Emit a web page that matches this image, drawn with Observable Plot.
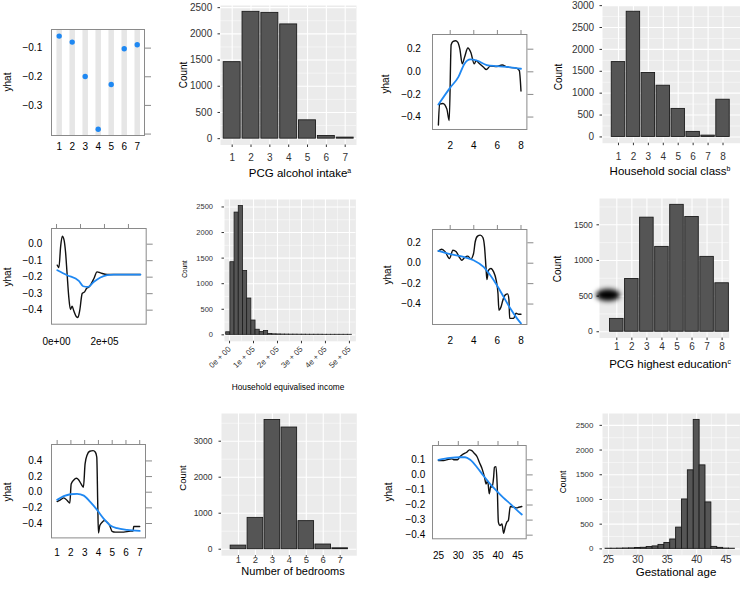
<!DOCTYPE html>
<html><head><meta charset="utf-8">
<script src="https://cdn.jsdelivr.net/npm/d3@7"></script>
<script src="https://cdn.jsdelivr.net/npm/@observablehq/plot@0.6"></script>
<style>
body{margin:0;background:#fff;}
#wrap{position:relative;width:740px;height:592px;overflow:hidden;background:#fff;font-family:"Liberation Sans",Arial,Helvetica,sans-serif;}
.t{position:absolute;white-space:nowrap;color:#000;line-height:1;font-family:"Liberation Sans",Arial,Helvetica,sans-serif;}
.t sup{font-size:0.6em;vertical-align:0.55em;line-height:0;}
.blob{position:absolute;background:#000;border-radius:50%;filter:blur(2.5px);}
</style></head><body><div id="wrap"></div><script>
// ---------- DATA ----------
// Row 1: PCG alcohol intake (partial dependence + histogram)
const alcoholCats = [1, 2, 3, 4, 5, 6, 7];
const alcoholYhat = [-0.058, -0.079, -0.199, -0.383, -0.227, -0.102, -0.088];
const alcoholCounts = [1460, 2420, 2400, 2180, 350, 50, 20];

// Row 1: Household social class
const socPdX = [1.0, 1.1, 1.38, 1.72, 1.92, 2.08, 2.25, 2.45, 2.65, 2.82, 3.02, 3.22, 3.5, 3.75, 4.04, 4.2, 4.4, 4.83, 5.06, 5.4, 5.96, 6.4, 6.8, 7.66, 7.86, 8.0];
const socPdY = [-0.47, -0.285, -0.28, -0.33, -0.43, 0.24, 0.27, 0.275, 0.26, 0.2, 0.07, 0.13, 0.21, 0.17, 0.07, 0.1, 0.08, 0.04, 0.02, 0.05, 0.047, 0.06, 0.044, 0.03, 0.01, -0.17];
const socSmX = [1.0, 2.0, 2.7, 3.2, 3.7, 4.26, 5.1, 5.96, 7.1, 8.0];
const socSmY = [-0.29, -0.14, -0.045, 0.07, 0.11, 0.1, 0.06, 0.05, 0.04, 0.027];
const socialCats = [1, 2, 3, 4, 5, 6, 7, 8];
const socialCounts = [1710, 2860, 1460, 1170, 640, 115, 30, 850];

// Row 2: Household equivalised income
const incPdX = [3000, 10000, 17000, 24000, 31000, 37500, 44000, 51000, 58000, 65000, 72000, 83000, 89000, 97000, 107000, 117000, 125000, 135000, 144000, 156000, 169000, 183000, 211000, 253000, 350000];
const incPdY = [-0.127, -0.141, -0.016, 0.048, 0.028, -0.046, -0.178, -0.319, -0.396, -0.376, -0.404, -0.44, -0.444, -0.4, -0.299, -0.289, -0.269, -0.259, -0.242, -0.208, -0.168, -0.174, -0.184, -0.184, -0.184];
const incSmX = [3000, 44000, 93000, 111000, 131000, 156000, 183000, 211000, 239000, 350000];
const incSmY = [-0.158, -0.188, -0.222, -0.255, -0.259, -0.228, -0.202, -0.188, -0.184, -0.184];
const incomePdTicks = [0, 200000];
const incomePdLabels = ["0e+00", "2e+05"];
const incomeBinStart = [-14000, 3500, 21000, 38500, 56000, 73500, 91000, 108500, 126000, 143500, 161000, 178500, 196000, 213500, 231000, 248500, 266000, 283500, 301000, 318500, 336000, 353500, 371000, 388500, 406000, 423500, 441000, 458500, 476000, 493500];
const incomeBinWidth = 17500;
const incomeCounts = [50, 1420, 2390, 2520, 1250, 710, 280, 100, 55, 75, 15, 10, 8, 6, 5, 4, 4, 3, 3, 2, 2, 2, 2, 1, 1, 1, 1, 1, 1, 1];
const incomeHistTicks = [0, 100000, 200000, 300000, 400000, 500000];
const incomeHistLabels = ["0e + 00", "1e + 05", "2e + 05", "3e + 05", "4e + 05", "5e + 05"];

// Row 2: PCG highest education
const eduPdX = [1.0, 1.29, 1.58, 1.94, 2.23, 2.51, 2.79, 2.99, 3.22, 3.5, 3.75, 3.98, 4.12, 4.32, 4.55, 4.77, 4.91, 5.03, 5.11, 5.25, 5.45, 5.68, 5.9, 6.05, 6.13, 6.3, 6.47, 6.67, 6.87, 6.98, 7.04, 7.38, 7.58, 7.8, 8.0];
const eduPdY = [0.118, 0.137, 0.111, 0.046, 0.127, 0.111, 0.056, 0.029, 0.056, 0.069, 0.042, 0.095, 0.21, 0.265, 0.275, 0.252, 0.16, -0.036, -0.16, -0.069, -0.052, -0.085, -0.167, -0.297, -0.46, -0.43, -0.36, -0.31, -0.3, -0.36, -0.54, -0.54, -0.49, -0.5, -0.5];
const eduSmX = [1.0, 2.0, 3.13, 3.98, 4.83, 5.4, 5.96, 6.53, 7.1, 7.66, 8.0];
const eduSmY = [0.121, 0.088, 0.062, 0.029, -0.036, -0.118, -0.216, -0.33, -0.444, -0.54, -0.59];
const eduCats = [1, 2, 3, 4, 5, 6, 7, 8];
const eduCounts = [180, 740, 1600, 1190, 1780, 1610, 1050, 680];

// Row 3: Number of bedrooms
const bedPdX = [1.0, 1.24, 1.48, 1.73, 1.92, 2.02, 2.21, 2.4, 2.57, 2.74, 2.91, 3.03, 3.18, 3.37, 3.61, 3.78, 3.88, 3.95, 4.0, 4.1, 4.27, 4.44, 4.63, 4.82, 4.99, 5.23, 5.84, 6.32, 6.52, 6.56, 7.0];
const bedPdY = [-0.119, -0.098, -0.072, -0.106, -0.14, 0.106, 0.157, 0.179, 0.157, 0.106, 0.064, 0.362, 0.477, 0.524, 0.532, 0.511, 0.447, -0.149, -0.52, -0.426, -0.383, -0.362, -0.383, -0.426, -0.5, -0.51, -0.51, -0.498, -0.498, -0.438, -0.438];
const bedSmX = [1.0, 1.48, 1.97, 2.45, 2.94, 3.42, 3.9, 4.39, 4.87, 5.36, 6.08, 7.0];
const bedSmY = [-0.098, -0.051, -0.026, -0.021, -0.043, -0.128, -0.226, -0.34, -0.426, -0.46, -0.481, -0.494];
const bedCats = [1, 2, 3, 4, 5, 6, 7];
const bedCounts = [100, 870, 3590, 3380, 780, 130, 25];

// Row 3: Gestational age
const gesPdX = [25, 26.3, 27.5, 28.4, 29, 29.8, 30.3, 31.3, 32.1, 32.8, 33.4, 34, 34.7, 35.3, 36, 36.6, 37, 37.4, 37.8, 38.2, 38.5, 38.9, 39.1, 39.5, 39.8, 40.1, 40.5, 41, 41.4, 41.8, 42.2, 42.6, 43.1, 44.1, 44.7, 45.2, 46];
const gesPdY = [0.095, 0.095, 0.104, 0.106, 0.1, 0.1, 0.117, 0.139, 0.15, 0.166, 0.161, 0.144, 0.122, 0.084, 0.04, -0.015, -0.06, -0.038, -0.126, -0.071, -0.082, -0.015, 0.051, 0.055, -0.071, -0.314, -0.336, -0.325, -0.387, -0.347, -0.314, -0.303, -0.21, -0.215, -0.219, -0.215, -0.21];
const gesSmX = [25, 27.9, 30.5, 31.7, 33, 34.7, 36.3, 38, 39.7, 41.4, 43.1, 44.7, 46];
const gesSmY = [0.1, 0.113, 0.117, 0.117, 0.1, 0.051, -0.004, -0.06, -0.108, -0.153, -0.192, -0.232, -0.263];
const gestWeeks = [25, 26, 27, 28, 29, 30, 31, 32, 33, 34, 35, 36, 37, 38, 39, 40, 41, 42, 43, 44, 45, 46];
const gestCounts = [3, 3, 5, 8, 10, 18, 22, 38, 50, 80, 120, 190, 430, 1000, 1590, 2610, 1690, 940, 40, 20, 6, 3];

// ---------- STYLE ----------
const FONT = '"Liberation Sans", Arial, Helvetica, sans-serif';
const FRAME = "#8a8a8a";
const BLACK = "#111";
const BLUE = "#1f88f2";
const BAR_FILL = "#555555";
const BAR_STROKE = "#1c1c1c";
const PANEL_BG = "#ebebeb";
const f1 = d3.format(".1f");
const fInt = d3.format("d");

const wrap = document.getElementById("wrap");
function put(node, left, top) {
  node.style.position = "absolute";
  node.style.left = left + "px";
  node.style.top = top + "px";
  node.style.maxWidth = "none";
  wrap.appendChild(node);
}
function title(html, cx, cy, fs, rot) {
  const d = document.createElement("div");
  d.className = "t";
  d.innerHTML = html;
  d.style.fontSize = fs + "px";
  d.style.left = cx + "px";
  d.style.top = cy + "px";
  d.style.transform = "translate(-50%,-50%)" + (rot ? " rotate(-90deg)" : "");
  wrap.appendChild(d);
}

function lattice(o) {
  const [x0, y0, x1, y1] = o.box;
  const ml = 52, mr = 10, mt = 8, mb = 30;
  const svg = Plot.plot({
    width: x1 - x0 + ml + mr, height: y1 - y0 + mt + mb,
    marginLeft: ml, marginRight: mr, marginTop: mt, marginBottom: mb,
    x: {domain: o.xDomain}, y: {domain: o.yDomain},
    style: {fontFamily: FONT, fontSize: "10px", background: "transparent", color: "#000", overflow: "visible"},
    marks: [
      ...o.marks,
      Plot.frame({stroke: FRAME, strokeWidth: 1}),
      Plot.axisY({ticks: o.yTicks, tickFormat: f1, tickSize: 0, tickPadding: o.yPad, fill: "#000", fontSize: 10, label: null}),
      Plot.axisY({anchor: "right", ticks: o.rightTicks || o.yTicks, tickSize: 6, stroke: FRAME, fill: "none", label: null}),
      Plot.axisX({ticks: o.xTicks, tickFormat: o.xFormat || fInt, tickSize: 0, tickPadding: o.xPad, fill: "#000", fontSize: 10, label: null}),
      ...(o.topTicks ? [Plot.axisX({anchor: "top", ticks: o.topTicks, tickSize: 5, stroke: FRAME, fill: "none", label: null})] : [])
    ]
  });
  put(svg, x0 - ml, y0 - mt);
}

function gg(o) {
  const [x0, y0, x1, y1] = o.panel;
  const ml = 45, mr = o.mr === undefined ? 6 : o.mr, mt = 4, mb = 40;
  const svg = Plot.plot({
    width: x1 - x0 + ml + mr, height: y1 - y0 + mt + mb,
    marginLeft: ml, marginRight: mr, marginTop: mt, marginBottom: mb,
    x: {domain: o.xDomain}, y: {domain: o.yDomain},
    style: {fontFamily: FONT, fontSize: "10px", background: "transparent", color: "#333", overflow: "visible"},
    marks: [
      Plot.frame({fill: PANEL_BG, stroke: "none"}),
      Plot.gridY({ticks: o.yMinor, stroke: "#fff", strokeOpacity: 1, strokeWidth: 0.5}),
      ...(o.xMinor ? [Plot.gridX({ticks: o.xMinor, stroke: "#fff", strokeOpacity: 1, strokeWidth: 0.5})] : []),
      Plot.gridY({ticks: o.yTicks, stroke: "#fff", strokeOpacity: 1, strokeWidth: 1.1}),
      Plot.gridX({ticks: o.xTicks, stroke: "#fff", strokeOpacity: 1, strokeWidth: 1.1}),
      ...o.marks,
      Plot.axisY({ticks: o.yTicks, tickFormat: fInt, tickSize: 2.5, tickPadding: o.yPad, stroke: "#333", fill: "#333", fontSize: o.yFs, label: null}),
      Plot.axisX({ticks: o.xTicks, tickFormat: o.xFormat || fInt, tickSize: o.xTick === undefined ? 2.5 : o.xTick, tickPadding: o.xPad, tickRotate: o.rot || 0, stroke: "#333", fill: "#333", fontSize: o.xFs, label: null})
    ]
  });
  put(svg, x0 - ml, y0 - mt);
}
const bar = (cats, counts, half) => Plot.rect(cats, {x1: d => d - half, x2: d => d + half, y1: () => 0, y2: counts, fill: BAR_FILL, stroke: BAR_STROKE, strokeWidth: 0.9});
const pdLines = (px, py, sx, sy) => [
  Plot.line(px, {x: px, y: py, stroke: BLACK, strokeWidth: 1.4, curve: "monotone-x"}),
  Plot.line(sx, {x: sx, y: sy, stroke: BLUE, strokeWidth: 1.8, curve: "monotone-x"})
];

// ---------- ROW 1 ----------
lattice({
  box: [51, 29, 144, 135], xDomain: [0.41, 7.56], yDomain: [-0.405, -0.035],
  yTicks: [-0.1, -0.2, -0.3], rightTicks: [-0.1, -0.2, -0.3, -0.4], yPad: 9.3,
  xTicks: alcoholCats, xPad: 7.1,
  marks: [
    Plot.ruleX(alcoholCats, {stroke: "#e6e6e6", strokeWidth: 5.5}),
    Plot.dot(alcoholCats, {x: alcoholCats, y: alcoholYhat, r: 2.7, fill: BLUE, stroke: "none"})
  ]
});
gg({
  panel: [220, 5, 356, 144.5], xDomain: [0.38, 7.6], yDomain: [-121, 2541],
  yTicks: [0, 500, 1000, 1500, 2000, 2500], yMinor: [250, 750, 1250, 1750, 2250],
  xTicks: alcoholCats, yFs: 10, xFs: 10, yPad: 5.8, xPad: 6.4,
  marks: [bar(alcoholCats, alcoholCounts, 0.45)]
});
lattice({
  box: [432.3, 34.3, 526.7, 129.3], xDomain: [0.5, 8.5], yDomain: [-0.51, 0.33],
  yTicks: [0.2, 0, -0.2, -0.4], yPad: 11.6,
  xTicks: [2, 4, 6, 8], xPad: 12.8, topTicks: [2, 4, 6, 8],
  marks: pdLines(socPdX, socPdY, socSmX, socSmY)
});
gg({
  panel: [601.7, 4.9, 740, 142.6], mr: 0, xDomain: [-0.07, 9.19], yDomain: [-143, 3003],
  yTicks: [0, 500, 1000, 1500, 2000, 2500, 3000], yMinor: [250, 750, 1250, 1750, 2250, 2750],
  xTicks: socialCats, yFs: 10, xFs: 10, yPad: 5.9, xPad: 7,
  marks: [bar(socialCats, socialCounts, 0.45)]
});

// ---------- ROW 2 ----------
lattice({
  box: [51, 228.3, 145.7, 324], xDomain: [-21000, 374000], yDomain: [-0.485, 0.095],
  yTicks: [0, -0.1, -0.2, -0.3, -0.4], yPad: 9.3,
  xTicks: incomePdTicks, xFormat: d => incomePdLabels[incomePdTicks.indexOf(d)], xPad: 13.4,
  topTicks: [0, 100000, 200000, 300000],
  marks: pdLines(incPdX, incPdY, incSmX, incSmY)
});
gg({
  panel: [224.3, 199, 355.7, 340.8], xDomain: [-21000, 527000], yDomain: [-126, 2646],
  yTicks: [0, 500, 1000, 1500, 2000, 2500], yMinor: [250, 750, 1250, 1750, 2250],
  xTicks: incomeHistTicks, xMinor: [50000, 150000, 250000, 350000, 450000],
  xFormat: d => incomeHistLabels[incomeHistTicks.indexOf(d)], rot: -45,
  yFs: 7.5, xFs: 8, yPad: 9, xPad: 4,
  marks: [Plot.rect(incomeBinStart, {x1: d => d, x2: d => d + incomeBinWidth, y1: () => 0, y2: incomeCounts, fill: BAR_FILL, stroke: BAR_STROKE, strokeWidth: 0.8})]
});
lattice({
  box: [432.3, 229.3, 526.7, 324.3], xDomain: [0.5, 8.5], yDomain: [-0.6, 0.33],
  yTicks: [0.2, 0, -0.2, -0.4], yPad: 11.6,
  xTicks: [2, 4, 6, 8], xPad: 12, topTicks: [2, 4, 6, 8],
  marks: pdLines(eduPdX, eduPdY, eduSmX, eduSmY)
});
gg({
  panel: [599.3, 197.7, 729, 337.3], xDomain: [-0.15, 8.47], yDomain: [-89, 1869],
  yTicks: [0, 500, 1000, 1500], yMinor: [250, 750, 1250, 1750],
  xTicks: eduCats, yFs: 8.5, xFs: 10, yPad: 4.2, xPad: 2.3,
  marks: [bar(eduCats, eduCounts, 0.45)]
});

// ---------- ROW 3 ----------
lattice({
  box: [51, 444.3, 145, 537.7], xDomain: [0.59, 7.42], yDomain: [-0.584, 0.61],
  yTicks: [0.4, 0.2, 0, -0.2, -0.4], yPad: 9.3,
  xTicks: bedCats, xPad: 11.4, topTicks: bedCats,
  marks: pdLines(bedPdX, bedPdY, bedSmX, bedSmY)
});
gg({
  panel: [220.7, 413.3, 356, 555.5], xDomain: [0, 7.98], yDomain: [-180, 3770],
  yTicks: [0, 1000, 2000, 3000], yMinor: [500, 1500, 2500, 3500],
  xTicks: bedCats, yFs: 8.5, xFs: 9.5, yPad: 6.5, xTick: 1.5, xPad: -0.5,
  marks: [bar(bedCats, bedCounts, 0.46)]
});
lattice({
  box: [432.3, 445, 526, 538.3], xDomain: [23.5, 47.1], yDomain: [-0.424, 0.195],
  yTicks: [0.1, 0, -0.1, -0.2, -0.3, -0.4], yPad: 7.3,
  xTicks: [25, 30, 35, 40, 45], xPad: 13, topTicks: [25, 30, 35, 40, 45],
  marks: pdLines(gesPdX, gesPdY, gesSmX, gesSmY)
});
gg({
  panel: [602.3, 413.3, 740, 555.1], mr: 0, xDomain: [23.98, 47.4], yDomain: [-130, 2740],
  yTicks: [0, 500, 1000, 1500, 2000, 2500], yMinor: [250, 750, 1250, 1750, 2250],
  xTicks: [25, 30, 35, 40, 45], xMinor: [27.5, 32.5, 37.5, 42.5],
  yFs: 8, xFs: 10, yPad: 6.5, xTick: 1.5, xPad: -0.5,
  marks: [bar(gestWeeks, gestCounts, 0.5)]
});

// ---------- AXIS TITLES ----------
title("yhat", 8, 82, 10, true);
title("Count", 184, 75, 10, true);
title("PCG alcohol intake<sup>a</sup>", 300, 174, 11.5);
title("yhat", 386, 84, 10, true);
title("Count", 559, 77, 10, true);
title("Household social class<sup>b</sup>", 670, 172, 11.5);
title("yhat", 8, 277, 10, true);
title("Count", 185, 269, 6.5, true);
title("Household equivalised income", 288, 387, 8.3);
title("yhat", 388, 275, 10, true);
title("Count", 558, 269, 10, true);
title("PCG highest education<sup>c</sup>", 670, 365, 11.5);
title("yhat", 8, 492, 10, true);
title("Count", 183, 478, 9.5, true);
title("Number of bedrooms", 293, 571, 11);
title("yhat", 389, 492, 10, true);
title("Count", 563, 482, 8.5, true);
title("Gestational age", 676, 573, 11.5);

// blurred blot present in the original image
const blob = document.createElement("div");
blob.className = "blob";
blob.style.left = "596px"; blob.style.top = "288.5px";
blob.style.width = "24px"; blob.style.height = "12px";
wrap.appendChild(blob);
</script></body></html>
